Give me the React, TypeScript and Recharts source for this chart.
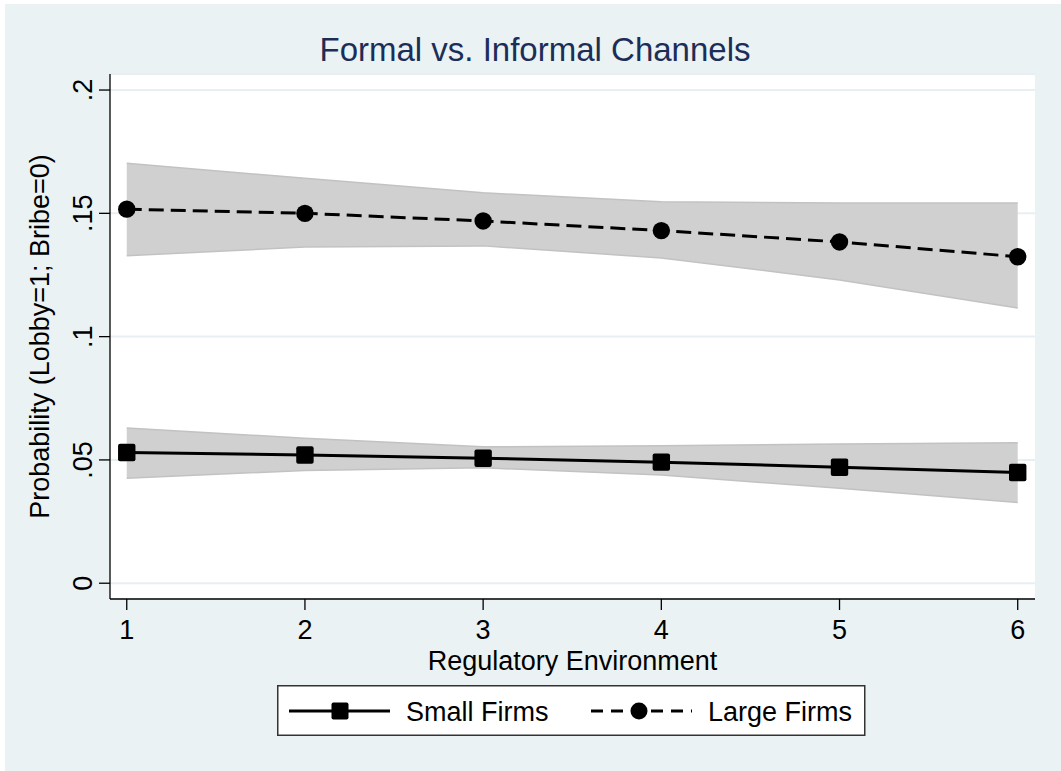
import React from 'react'
import { ComposedChart, Area, Line, XAxis, YAxis, CartesianGrid, Legend } from 'recharts'

const regEnv = [1, 2, 3, 4, 5, 6]
const smallFirms = [0.053, 0.052, 0.0507, 0.0491, 0.047, 0.0449]
const smallLower = [0.0426, 0.0457, 0.0468, 0.0439, 0.0385, 0.0327]
const smallUpper = [0.0629, 0.0588, 0.0553, 0.0557, 0.0565, 0.057]
const largeFirms = [0.1517, 0.15, 0.1469, 0.143, 0.1384, 0.1324]
const largeLower = [0.1328, 0.1363, 0.1368, 0.1319, 0.123, 0.1116]
const largeUpper = [0.1703, 0.1642, 0.1583, 0.1547, 0.1542, 0.1542]
const yTicks = [0, 0.05, 0.1, 0.15, 0.2]
const yTickLabels = ['0', '.05', '.1', '.15', '.2']
const xTicks = [1, 2, 3, 4, 5, 6]

const FONT = '"Liberation Sans", Arial, Helvetica, sans-serif'
const TXT = 27

const data = regEnv.map((x, i) => ({
  x,
  small: smallFirms[i],
  smallBand: [smallLower[i], smallUpper[i]],
  large: largeFirms[i],
  largeBand: [largeLower[i], largeUpper[i]],
}))

function YTick({ x, y, payload }: any) {
  const i = yTicks.indexOf(payload.value)
  return (
    <text x={x} y={y} transform={`rotate(-90 ${x} ${y})`} textAnchor="middle" fontSize={TXT} fontFamily={FONT} fill="#000">
      {i >= 0 ? yTickLabels[i] : payload.value}
    </text>
  )
}

function XTick({ x, y, payload }: any) {
  return (
    <text x={x} y={y + 25} textAnchor="middle" fontSize={TXT} fontFamily={FONT} fill="#000">
      {payload.value}
    </text>
  )
}

function XTitle({ viewBox }: any) {
  const { x, y, width } = viewBox
  return (
    <text x={x + width / 2} y={y + 71} textAnchor="middle" fontSize={TXT} fontFamily={FONT} fill="#000">
      Regulatory Environment
    </text>
  )
}

function YTitle({ viewBox }: any) {
  const { y, height } = viewBox
  const cx = 49
  const cy = y + height / 2
  return (
    <text x={cx} y={cy} transform={`rotate(-90 ${cx} ${cy})`} textAnchor="middle" fontSize={TXT} fontFamily={FONT} fill="#000">
      Probability (Lobby=1; Bribe=0)
    </text>
  )
}

function LegendBox() {
  return (
    <svg width={590} height={52} style={{ display: 'block' }}>
      <rect x={0.75} y={0.75} width={587} height={49.5} fill="#fff" stroke="#333" strokeWidth={1.5} />
      <line x1={12} x2={113} y1={26} y2={26} stroke="#000" strokeWidth={3} />
      <rect x={54.5} y={17.5} width={17} height={17} rx={2} fill="#000" />
      <text x={129} y={35.5} fontSize={TXT} fontFamily={FONT} fill="#000">Small Firms</text>
      <line x1={314} x2={415} y1={26} y2={26} stroke="#000" strokeWidth={3} strokeDasharray="12 8" />
      <circle cx={362} cy={26} r={8.5} fill="#000" />
      <text x={431} y={35.5} fontSize={TXT} fontFamily={FONT} fill="#000">Large Firms</text>
    </svg>
  )
}

export default function App() {
  return (
    <div style={{ position: 'absolute', left: 0, top: 0, width: 1061, height: 771, background: '#fff' }}>
      <div style={{ position: 'absolute', left: 5, top: 4, width: 1056, height: 767, background: '#EAF2F3' }} />
      <svg width={1061} height={80} style={{ position: 'absolute', left: 0, top: 0 }}>
        <text x={535} y={61} textAnchor="middle" fontSize={33} fontFamily={FONT} fill="#1C2E58">
          Formal vs. Informal Channels
        </text>
      </svg>
      <div style={{ position: 'absolute', left: 0, top: 0 }}>
        <ComposedChart width={1061} height={771} data={data} margin={{ top: 74, right: 26, bottom: 112, left: 0 }}>
          <CartesianGrid vertical={false} stroke="#E8EFF2" strokeWidth={2} fill="#fff" />
          <XAxis
            dataKey="x"
            type="number"
            domain={[0.906, 6.097]}
            allowDataOverflow
            ticks={xTicks}
            height={60}
            tickSize={11}
            tickMargin={4}
            stroke="#000"
            tickLine={{ stroke: '#000', strokeWidth: 1.3 }}
            axisLine={{ stroke: '#000', strokeWidth: 1.3 }}
            tick={<XTick />}
            label={<XTitle />}
          />
          <YAxis
            type="number"
            domain={[-0.0064, 0.2065]}
            allowDataOverflow
            ticks={yTicks}
            width={110}
            tickSize={11}
            tickMargin={7}
            tickLine={{ stroke: '#000', strokeWidth: 1.3 }}
            axisLine={{ stroke: '#000', strokeWidth: 1.3 }}
            tick={<YTick />}
            label={<YTitle />}
          />
          <Area dataKey="largeBand" type="linear" fill="#D0D0D0" fillOpacity={1} stroke="#C2C2C2" strokeWidth={1.5} isAnimationActive={false} />
          <Area dataKey="smallBand" type="linear" fill="#D0D0D0" fillOpacity={1} stroke="#C2C2C2" strokeWidth={1.5} isAnimationActive={false} />
          <Line
            dataKey="small"
            type="linear"
            stroke="#000"
            strokeWidth={3}
            isAnimationActive={false}
            dot={(p: any) => <rect key={`s${p.index}`} x={p.cx - 8.7} y={p.cy - 8.7} width={17.4} height={17.4} rx={2} fill="#000" />}
          />
          <Line
            dataKey="large"
            type="linear"
            stroke="#000"
            strokeWidth={3}
            strokeDasharray="15 7"
            isAnimationActive={false}
            dot={(p: any) => <circle key={`l${p.index}`} cx={p.cx} cy={p.cy} r={8.7} fill="#000" />}
          />
          <Legend
            verticalAlign="middle"
            content={<LegendBox />}
            wrapperStyle={{ position: 'absolute', left: 277, top: 685, width: 590, height: 52 }}
          />
        </ComposedChart>
      </div>
    </div>
  )
}
